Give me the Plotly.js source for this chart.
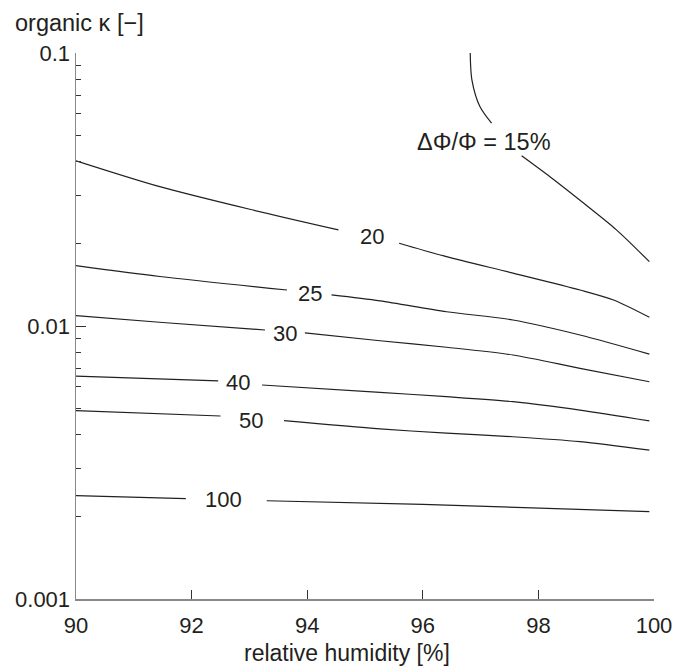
<!DOCTYPE html>
<html>
<head>
<meta charset="utf-8">
<script src="https://cdn.plot.ly/plotly-3.0.1.min.js"></script>
<style>html,body{margin:0;padding:0;background:#fff;}#chart{width:678px;height:668px;}</style>
</head>
<body>
<div id="chart"></div>
<script>
// Contour lines of ΔΦ/Φ (relative humidity [%] vs organic κ); null = gap for label
const rh15 = [96.82, 96.85, 96.99, 97.19, null, 97.71, 98.20, 98.78, 99.35, 99.92];
const k15  = [0.1, 0.0796, 0.0635, 0.0553, null, 0.0420, 0.0352, 0.0282, 0.0225, 0.0172];
const rh20 = [90, 91.45, 93.06, 94.54, null, 95.59, 96.41, 97.56, 98.72, 99.30, 99.92];
const k20  = [0.0403, 0.0324, 0.0266, 0.0225, null, 0.0201, 0.01795, 0.01563, 0.01355, 0.01245, 0.01076];
const rh25 = [90, 91.45, 93.65, null, 94.42, 95.26, 96.41, 97.56, 98.72, 99.92];
const k25  = [0.01663, 0.01518, 0.01355, null, 0.0130, 0.01236, 0.01128, 0.01052, 0.00927, 0.00789];
const rh30 = [90, 91.5, 93.27, null, 93.96, 95.26, 96.41, 97.56, 98.72, 99.92];
const k30  = [0.01091, 0.0103, 0.00967, null, 0.00943, 0.00883, 0.00836, 0.00783, 0.0070, 0.00625];
const rh40 = [90, 92.46, null, 93.22, 95.26, 96.41, 97.56, 98.72, 99.92];
const k40  = [0.00655, 0.00629, null, 0.00608, 0.00571, 0.00551, 0.00528, 0.00492, 0.00449];
const rh50 = [90, 92.5, null, 93.6, 95.26, 96.41, 97.56, 98.72, 99.92];
const k50  = [0.0049, 0.00468, null, 0.0045, 0.0042, 0.00405, 0.00393, 0.00377, 0.00351];
const rh100 = [90, 91.9, null, 93.3, 96, 99.92];
const k100  = [0.00239, 0.00233, null, 0.00229, 0.00222, 0.00209];

// Contour labels
const labelText = ["ΔΦ/Φ = 15%", "20", "25", "30", "40", "50", "100"];
const labelRH   = [97.06, 95.12, 94.05, 93.62, 92.8, 93.02, 92.55];
const labelK    = [0.0472, 0.0212, 0.0131, 0.0094, 0.0062, 0.00452, 0.00232];
const labelSize = [23.5, 22, 22, 22, 22, 22, 22];

// Axis ticks
const yTickVals = [0.001, 0.01, 0.1];
const yTickText = ["0.001", "0.01", "0.1"];
const yMinorVals = [0.002,0.003,0.004,0.005,0.006,0.007,0.008,0.009,0.02,0.03,0.04,0.05,0.06,0.07,0.08,0.09];
const xTickVals = [90, 92, 94, 96, 98, 100];

const FONT = "Liberation Sans, Arial, Helvetica, sans-serif";
const TXT = "#231f20";

const series = [[rh15,k15],[rh20,k20],[rh25,k25],[rh30,k30],[rh40,k40],[rh50,k50],[rh100,k100]];
const traces = series.map(s => ({
  x: s[0], y: s[1], type: "scatter", mode: "lines",
  line: {color: "#231f20", width: 1.2, shape: "spline", smoothing: 0.8},
  connectgaps: false, hoverinfo: "skip", showlegend: false
}));

const L = 76, R = 24, T = 53, B = 69, W = 678, H = 668;
const pw = W - L - R, ph = H - T - B;

const annotations = labelText.map((t, i) => ({
  x: labelRH[i], y: Math.log10(labelK[i]), xref: "x", yref: "y",
  text: t, showarrow: false, font: {family: FONT, size: labelSize[i], color: TXT},
  xanchor: "center", yanchor: "middle"
}));
annotations.push({
  x: (13 - L) / pw, y: (H - B - 23) / ph, xref: "paper", yref: "paper",
  text: "organic κ [−]", showarrow: false,
  font: {family: FONT, size: 23.5, color: TXT}, xanchor: "left", yanchor: "middle"
});
annotations.push({
  x: (347 - L) / pw, y: (H - B - 653) / ph, xref: "paper", yref: "paper",
  text: "relative humidity [%]", showarrow: false,
  font: {family: FONT, size: 23, color: TXT}, xanchor: "center", yanchor: "middle"
});

const layout = {
  width: W, height: H,
  margin: {l: L, r: R, t: T, b: B, pad: 0},
  paper_bgcolor: "#fff", plot_bgcolor: "#fff",
  font: {family: FONT, size: 22, color: TXT},
  showlegend: false,
  xaxis: {
    range: [90, 100], tickmode: "array", tickvals: xTickVals,
    ticks: "inside", ticklen: 9, tickwidth: 1, tickcolor: "#333",
    showline: true, linecolor: "#888", linewidth: 1.5, mirror: false,
    showgrid: false, zeroline: false,
    tickfont: {family: FONT, size: 22, color: TXT}, ticklabelstandoff: 6
  },
  yaxis: {
    type: "log", range: [-3, -1], tickmode: "array", tickvals: yTickVals, ticktext: yTickText,
    ticks: "inside", ticklen: 10, tickwidth: 1, tickcolor: "#333",
    minor: {ticks: "inside", ticklen: 5, tickwidth: 1, tickcolor: "#333", tickmode: "array", tickvals: yMinorVals, showgrid: false},
    showline: true, linecolor: "#888", linewidth: 1.5, mirror: false,
    showgrid: false, zeroline: false,
    tickfont: {family: FONT, size: 22, color: TXT}, ticklabelstandoff: 0
  },
  annotations: annotations
};

Plotly.newPlot("chart", traces, layout, {displayModeBar: false, staticPlot: true});
</script>
</body>
</html>
